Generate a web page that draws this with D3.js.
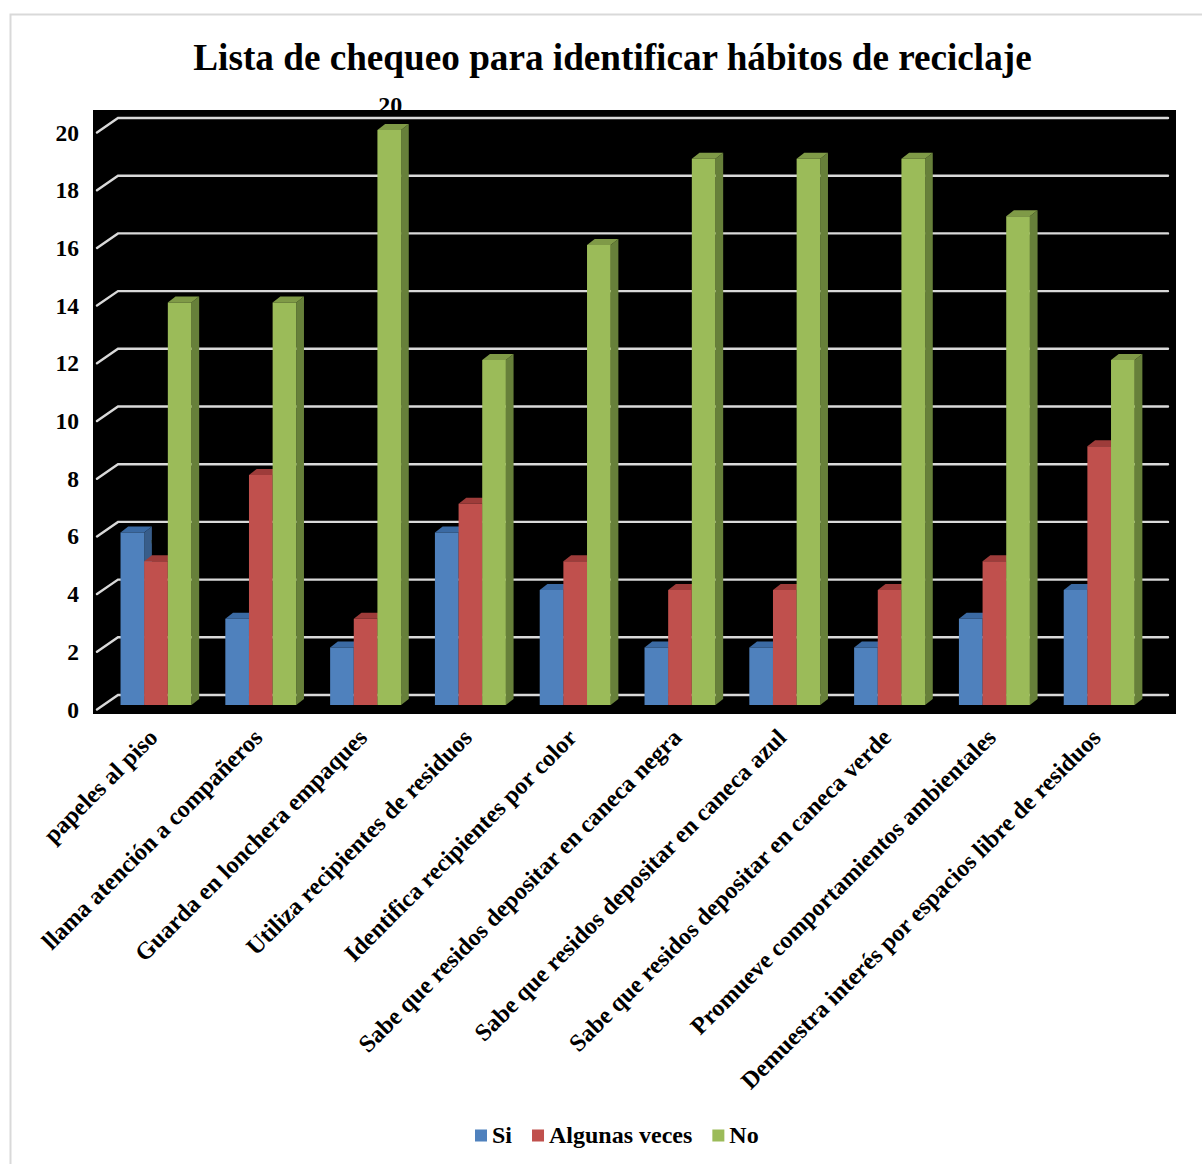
<!DOCTYPE html>
<html>
<head>
<meta charset="utf-8">
<script src="https://cdn.jsdelivr.net/npm/d3@7"></script>
<style>
  html, body { margin: 0; padding: 0; background: #fff; }
  svg { display: block; }
  text { font-family: "Liberation Serif", "Times New Roman", serif; font-weight: bold; fill: #000; }
</style>
</head>
<body>
<svg id="chart" width="1202" height="1164"></svg>
<script>
const categories = [
  "papeles al piso",
  "llama atención a compañeros",
  "Guarda en lonchera empaques",
  "Utiliza recipientes de residuos",
  "Identifica recipientes por color",
  "Sabe que residos depositar en caneca negra",
  "Sabe que residos depositar en caneca azul",
  "Sabe que residos depositar en caneca verde",
  "Promueve comportamientos ambientales",
  "Demuestra interés por espacios libre de residuos"
];
const seriesNames = ["Si", "Algunas veces", "No"];
const siValues = [6, 3, 2, 6, 4, 2, 2, 2, 3, 4];
const algunasValues = [5, 8, 3, 7, 5, 4, 4, 4, 5, 9];
const noValues = [14, 14, 20, 12, 16, 19, 19, 19, 17, 12];
const yTicks = [0, 2, 4, 6, 8, 10, 12, 14, 16, 18, 20];
const titleText = "Lista de chequeo para identificar hábitos de reciclaje";

const seriesValues = [siValues, algunasValues, noValues];
const frontColors = ["#4f81bd", "#c0504d", "#9bbb59"];
const topColors = ["#3b6aa3", "#9e3c3a", "#7f9a47"];
const sideColors = ["#385d8a", "#8c3836", "#67803a"];

const svg = d3.select("#chart");

// outer frame (only top/left visible)
svg.append("rect").attr("x", 10.5).attr("y", 14.5).attr("width", 1300).attr("height", 1300)
  .attr("fill", "none").attr("stroke", "#d9d9d9").attr("stroke-width", 2);

// title
svg.append("text").attr("x", 612.5).attr("y", 70).attr("text-anchor", "middle")
  .style("font-size", "37.2px").text(titleText);

// plot area
svg.append("rect").attr("x", 93).attr("y", 110).attr("width", 1083).attr("height", 604).attr("fill", "#000");

const x0 = d3.scaleBand().domain(categories).range([103.6, 1151.6]).paddingInner(0.323).paddingOuter(0.1615);
const x1 = d3.scaleBand().domain(seriesNames).range([0, x0.bandwidth()]);
const y = d3.scaleLinear().domain([0, 20]).range([705, 130]);
const yWall = d3.scaleLinear().domain([0, 20]).range([695, 118]);
const depthX = 21, depthY = 14.5;
const barDX = 7.7, barDY = 6;

// gridlines on back wall + floor ticks
const grid = svg.append("g").attr("stroke", "#d9d9d9").attr("stroke-width", 2.4).attr("fill", "none")
  .attr("stroke-linecap", "round");
yTicks.forEach(v => {
  const yb = yWall(v);
  grid.append("path").attr("d", `M${118 - depthX},${yb + depthY}L118,${yb}L1168,${yb}`);
});

// y tick labels
svg.append("g").selectAll("text").data(yTicks).join("text")
  .attr("x", 79).attr("y", v => yWall(v) + depthY + 8)
  .attr("text-anchor", "end").style("font-size", "23.5px").text(v => v);

// bars
const bars = svg.append("g");
categories.forEach((c, i) => {
  seriesNames.forEach((s, j) => {
    const v = seriesValues[j][i];
    const xl = x0(c) + x1(s), w = x1.bandwidth();
    const yt = y(v), yb = y(0);
    const g = bars.append("g");
    g.append("path").attr("fill", sideColors[j])
      .attr("d", `M${xl + w},${yt}L${xl + w + barDX},${yt - barDY}L${xl + w + barDX},${yb - barDY}L${xl + w},${yb}Z`);
    g.append("path").attr("fill", topColors[j])
      .attr("d", `M${xl},${yt}L${xl + w},${yt}L${xl + w + barDX},${yt - barDY}L${xl + barDX},${yt - barDY}Z`);
    g.append("rect").attr("x", xl).attr("y", yt).attr("width", w).attr("height", yb - yt).attr("fill", frontColors[j]);
  });
});

// data labels (black, visible only where not over the black plot area)
const labels = svg.append("g");
categories.forEach((c, i) => {
  seriesNames.forEach((s, j) => {
    const v = seriesValues[j][i];
    labels.append("text")
      .attr("x", x0(c) + x1(s) + x1.bandwidth() / 2 + 1)
      .attr("y", y(v) - 17)
      .attr("text-anchor", "middle").style("font-size", "24px").text(v);
  });
});

// category labels
svg.append("g").selectAll("text").data(categories).join("text")
  .attr("text-anchor", "end")
  .attr("transform", c => `translate(${x0(c) + x0.bandwidth() / 2 + 3},${739}) rotate(-45)`)
  .style("font-size", "24.2px").text(c => c);

// legend
const legend = svg.append("g");
let lx = 475;
seriesNames.forEach((s, j) => {
  legend.append("rect").attr("x", lx).attr("y", 1129.5).attr("width", 12).attr("height", 12).attr("fill", frontColors[j]);
  const t = legend.append("text").attr("x", lx + 17).attr("y", 1143).style("font-size", "24px").text(s);
  lx += 17 + t.node().getComputedTextLength() + 20;
});
</script>
</body>
</html>
